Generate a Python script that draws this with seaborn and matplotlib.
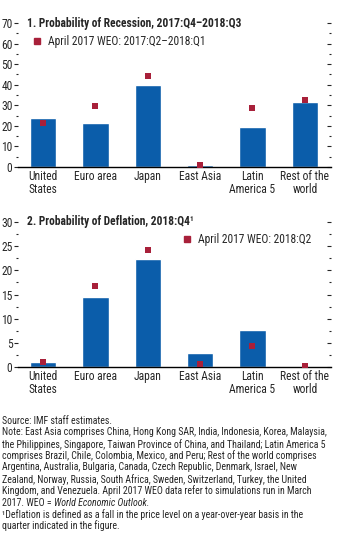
import matplotlib
matplotlib.use("Agg")
import matplotlib.pyplot as plt
from matplotlib import font_manager as fm
from matplotlib.lines import Line2D
from matplotlib.ticker import MultipleLocator
import seaborn as sns
import pandas as pd

categories = ["United\nStates", "Euro area", "Japan", "East Asia", "Latin\nAmerica 5", "Rest of the\nworld"]
recession_current = [23.8, 21.4, 40.0, 0.8, 19.4, 31.6]
recession_april2017 = [21.5, 29.5, 44.1, 0.8, 28.5, 32.6]
deflation_current = [1.0, 14.5, 22.4, 2.9, 7.7, 0.1]
deflation_april2017 = [0.95, 16.7, 24.2, 0.7, 4.3, 0.2]

title1 = "1. Probability of Recession, 2017:Q4\u20132018:Q3"
title2 = "2. Probability of Deflation, 2018:Q4\u00b9"
legend1 = "April 2017 WEO: 2017:Q2\u20132018:Q1"
legend2 = "April 2017 WEO: 2018:Q2"

BLUE = "#0B5DAA"
RED = "#A8203A"

sns.set_style("white")
fam = "DejaVu Sans"
for cand in ["Liberation Sans Narrow", "Roboto Condensed", "Liberation Sans"]:
    try:
        fm.findfont(fm.FontProperties(family=cand), fallback_to_default=False)
        fam = cand
        break
    except Exception:
        pass
plt.rcParams["font.family"] = [fam, "DejaVu Sans"]
FS = 8.3

fig = plt.figure(figsize=(3.46, 5.54), dpi=100)
L, R = 18 / 346, 331 / 346
ax1 = fig.add_axes([L, 1 - 167 / 554, R - L, (167 - 23) / 554])
ax2 = fig.add_axes([L, 1 - 367 / 554, R - L, (367 - 222) / 554])


def panel(ax, cur, old, ymax, major, minor, title, leg, legpos):
    df = pd.DataFrame({"cat": categories, "cur": cur, "old": old})
    sns.barplot(data=df, x="cat", y="cur", color=BLUE, saturation=1, width=0.5, ax=ax)
    sns.stripplot(data=df, x="cat", y="old", color=RED, marker="s", size=4.0,
                  jitter=False, linewidth=0, ax=ax, zorder=5)
    ax.set_xlim(-0.48, 5.5)
    ax.set_ylim(0, ymax)
    ax.set_xlabel("")
    ax.set_ylabel("")
    for s in ["top", "left", "right"]:
        ax.spines[s].set_visible(False)
    ax.spines["bottom"].set_linewidth(1.0)
    ax.spines["bottom"].set_color("black")
    ax.yaxis.set_major_locator(MultipleLocator(major))
    ax.yaxis.set_minor_locator(MultipleLocator(minor))
    ax.tick_params(axis="y", which="major", direction="out", length=3, width=0.8,
                   labelsize=FS, pad=1, left=True, right=True, labelright=False)
    ax.tick_params(axis="y", which="minor", direction="out", length=1.5, width=0.8,
                   left=True, right=True)
    ax.tick_params(axis="x", length=0, labelsize=FS, pad=2)
    for lab in ax.get_xticklabels():
        lab.set_linespacing(1.05)
    ax.text(0.028, 1.0, title, transform=ax.transAxes, fontsize=FS, fontweight="bold",
            ha="left", va="center")
    h = Line2D([], [], marker="s", color=RED, linestyle="none", markersize=4.0)
    ax.legend([h], [leg], loc="center left", bbox_to_anchor=legpos, frameon=False,
              fontsize=FS, handlelength=0.8, handletextpad=0.6, borderpad=0, borderaxespad=0)


panel(ax1, recession_current, recession_april2017, 70, 10, 5, title1, legend1, (0.045, 0.87))
panel(ax2, deflation_current, deflation_april2017, 30, 5, 2.5, title2, legend2, (0.525, 0.878))
# right-side ticks drawn inward
for ax in (ax1, ax2):
    for t in ax.yaxis.get_major_ticks() + ax.yaxis.get_minor_ticks():
        t.tick2line.set_marker(matplotlib.lines.TICKLEFT)

notes = [
    "Source: IMF staff estimates.",
    "Note: East Asia comprises China, Hong Kong SAR, India, Indonesia, Korea, Malaysia,",
    "the Philippines, Singapore, Taiwan Province of China, and Thailand; Latin America 5",
    "comprises Brazil, Chile, Colombia, Mexico, and Peru; Rest of the world comprises",
    "Argentina, Australia, Bulgaria, Canada, Czech Republic, Denmark, Israel, New",
    "Zealand, Norway, Russia, South Africa, Sweden, Switzerland, Turkey, the United",
    "Kingdom, and Venezuela. April 2017 WEO data refer to simulations run in March",
]
last_plain = "2017. WEO = "
last_italic = "World Economic Outlook."
foot = [
    "\u00b9Deflation is defined as a fall in the price level on a year-over-year basis in the",
    "quarter indicated in the figure.",
]
NFS = 7.1
y0 = 420.7
dy = 11.7
x0 = 2 / 346
i = 0
for line in notes:
    fig.text(x0, 1 - (y0 + i * dy) / 554, line, fontsize=NFS, ha="left", va="center")
    i += 1
t = fig.text(x0, 1 - (y0 + i * dy) / 554, last_plain, fontsize=NFS, ha="left", va="center")
fig.canvas.draw()
bb = t.get_window_extent(renderer=fig.canvas.get_renderer())
fig.text(bb.x1 / (3.46 * 100), 1 - (y0 + i * dy) / 554, last_italic, fontsize=NFS,
         ha="left", va="center", style="italic")
i += 1
for line in foot:
    fig.text(x0, 1 - (y0 + i * dy) / 554, line, fontsize=NFS, ha="left", va="center")
    i += 1

fig.savefig("out.png", dpi=100, facecolor="white")
